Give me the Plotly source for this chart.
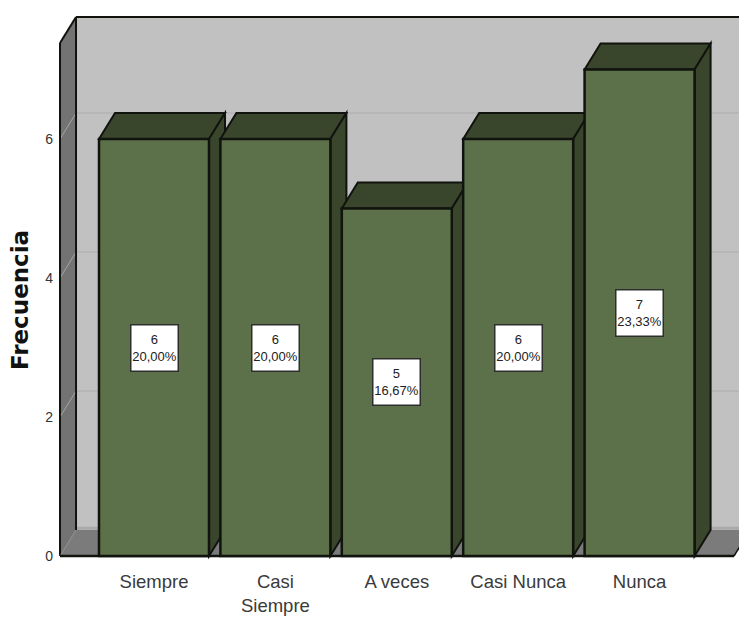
import plotly.graph_objects as go

# Survey responses and their frequencies
categories = ["Siempre", "Casi<br>Siempre", "A veces", "Casi Nunca", "Nunca"]
frequencies = [6, 6, 5, 6, 7]
percent_labels = ["20,00%", "20,00%", "16,67%", "20,00%", "23,33%"]
y_ticks = [0, 2, 4, 6]

SANS = "Liberation Sans, Arial, sans-serif"
FRONT = "#5c7049"
SHADE = "#3a462c"
EDGE = "#10130e"

positions = list(range(len(categories)))
bar_width = 0.906
depth_x = 0.132     # horizontal extrusion of the pseudo-3D box, in x units
depth_y = 0.374     # vertical extrusion, in y units
x_left = -0.7743    # front-left corner of the chart box
x_right = 4.778     # front-right corner of the floor
y_top = 7.381       # top of the left wall at its front edge


def poly(points, fill, line=EDGE, width=2):
    path = "M " + " L ".join(f"{x} {y}" for x, y in points) + " Z"
    return dict(type="path", path=path, xref="x", yref="y", layer="below",
                fillcolor=fill, line=dict(color=line, width=width))


def seg(x0, y0, x1, y1, color, width):
    return dict(type="line", x0=x0, y0=y0, x1=x1, y1=y1, xref="x", yref="y",
                layer="below", line=dict(color=color, width=width))


shapes = [
    # back wall, floor and left wall
    poly([(x_left + depth_x, depth_y), (x_right + 2 * depth_x, depth_y),
          (x_right + 2 * depth_x, y_top + depth_y), (x_left + depth_x, y_top + depth_y)],
         "#c1c1c1", line="rgba(0,0,0,0)", width=0),
    poly([(x_left, 0), (x_right, 0), (x_right + depth_x, depth_y), (x_left + depth_x, depth_y)],
         "#7b7b7b", line="rgba(0,0,0,0)", width=0),
    seg(x_left + depth_x, depth_y + 0.025, x_right + 2 * depth_x, depth_y + 0.025, "#a9a9a9", 3),
    poly([(x_left, 0), (x_left + depth_x, depth_y),
          (x_left + depth_x, y_top + depth_y), (x_left, y_top)],
         "#737373", line="rgba(0,0,0,0)", width=0),
]

# grid lines run along the back wall and fold down the left wall
for t in y_ticks[1:]:
    shapes.append(seg(x_left, t, x_left + depth_x, t + depth_y, "#a6a6a6", 1))
    shapes.append(seg(x_left + depth_x, t + depth_y, x_right + 2 * depth_x, t + depth_y, "#adadad", 1))

# box outline
shapes += [
    seg(x_left, 0, x_left, y_top, EDGE, 2),
    seg(x_left, y_top, x_left + depth_x, y_top + depth_y, EDGE, 2),
    seg(x_left + depth_x, y_top + depth_y, x_right + 2 * depth_x, y_top + depth_y, EDGE, 2),
    seg(x_left + depth_x, depth_y, x_left + depth_x, y_top + depth_y, EDGE, 2),
    seg(x_left, 0, x_left + depth_x, depth_y, "#8f8f8f", 1),
    seg(x_left, 0, x_right, 0, EDGE, 2.5),
    seg(x_right, 0, x_right + depth_x, depth_y, EDGE, 1.5),
]

# top and side faces of every bar, built from its value
for p, v in zip(positions, frequencies):
    x0, x1 = p - bar_width / 2, p + bar_width / 2
    shapes.append(poly([(x0, v), (x1, v), (x1 + depth_x, v + depth_y), (x0 + depth_x, v + depth_y)], SHADE))
    shapes.append(poly([(x1, 0), (x1 + depth_x, depth_y), (x1 + depth_x, v + depth_y), (x1, v)], SHADE))

annotations = [
    dict(x=p, y=v / 2, xref="x", yref="y", text=f"{v}<br>{pct}", showarrow=False,
         width=46, height=45, align="center", valign="middle", bgcolor="white",
         bordercolor="#2e2e2e", borderwidth=1.5, borderpad=0,
         font=dict(family=SANS, size=13, color="#222222"))
    for p, v, pct in zip(positions, frequencies, percent_labels)
]

# value-axis title, placed to the left of the chart box
annotations.append(dict(
    x=-0.0512, y=0.467, xref="paper", yref="paper", text="<b>Frecuencia</b>", showarrow=False,
    textangle=-90, xanchor="center", yanchor="middle",
    font=dict(family="DejaVu Sans, sans-serif", size=23, color="#111111"),
))

fig = go.Figure(go.Bar(
    x=positions, y=frequencies, width=bar_width, cliponaxis=False,
    marker=dict(color=FRONT, line=dict(color=EDGE, width=2.5)),
    hoverinfo="skip",
))

fig.update_layout(
    width=739, height=619, autosize=False,
    margin=dict(l=55, r=0, t=0, b=56),
    paper_bgcolor="white", plot_bgcolor="white",
    showlegend=False, shapes=shapes, annotations=annotations,
)
fig.update_xaxes(
    automargin=False, range=[(55 - 154) / 121.4, 4.819], tickmode="array",
    tickvals=positions, ticktext=categories,
    showgrid=False, zeroline=False, showline=False, ticks="", ticklabelstandoff=5,
    tickfont=dict(family=SANS, size=18.5, color="#3a3a3a"),
)
fig.update_yaxes(
    automargin=False, range=[-0.1007, 8], tickmode="array", tickvals=y_ticks,
    showgrid=False, zeroline=False, showline=False, ticks="", ticklabelstandoff=1,
    tickfont=dict(family=SANS, size=14, color="#333333"),
)

fig.write_html("out.html")
